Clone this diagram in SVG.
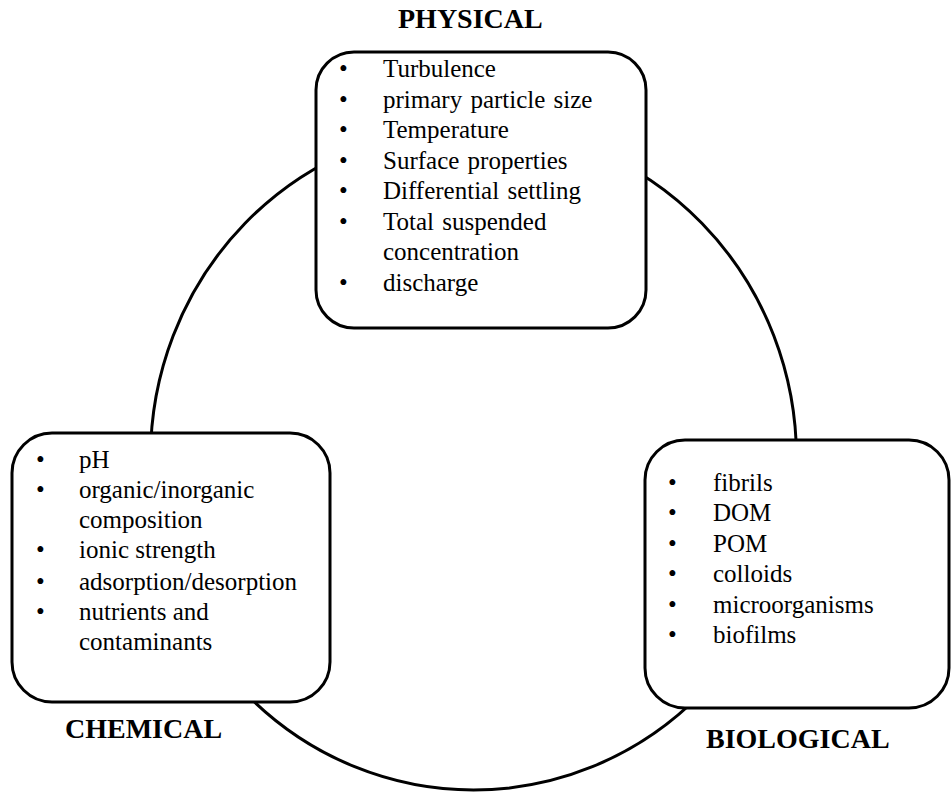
<svg xmlns="http://www.w3.org/2000/svg" width="952" height="793" viewBox="0 0 952 793">
<style>
.box{fill:#fff;stroke:#000;stroke-width:3}
.ring{fill:none;stroke:#000;stroke-width:3}
text{font-family:"Liberation Serif","Times New Roman",serif;fill:#000}
.t{font-size:25px}
.w{word-spacing:2px}
.h{font-size:28px;font-weight:bold}
</style>
<rect width="952" height="793" fill="#fff"/>
<g id="connectors">
<ellipse class="ring" cx="473.5" cy="458" rx="323" ry="332"/>
</g>
<g id="physical">
<rect class="box" x="316" y="52" width="330" height="276" rx="38" ry="38"/>
<text class="h" x="398" y="28">PHYSICAL</text>
<text class="t" x="339" y="77">•</text><text class="t w" x="383" y="77">Turbulence</text>
<text class="t" x="339" y="108">•</text><text class="t w" x="383" y="108">primary particle size</text>
<text class="t" x="339" y="138">•</text><text class="t w" x="383" y="138">Temperature</text>
<text class="t" x="339" y="169">•</text><text class="t w" x="383" y="169">Surface properties</text>
<text class="t" x="339" y="199">•</text><text class="t w" x="383" y="199">Differential settling</text>
<text class="t" x="339" y="230">•</text><text class="t w" x="383" y="230">Total suspended</text>
<text class="t w" x="383" y="260">concentration</text>
<text class="t" x="339" y="291">•</text><text class="t w" x="383" y="291">discharge</text>
</g>
<g id="chemical">
<rect class="box" x="12" y="433" width="318" height="269" rx="40" ry="40"/>
<text class="h" x="65" y="738">CHEMICAL</text>
<text class="t" x="36" y="468">•</text><text class="t" x="79" y="468">pH</text>
<text class="t" x="36" y="498">•</text><text class="t" x="79" y="498">organic/inorganic</text>
<text class="t" x="79" y="528">composition</text>
<text class="t" x="36" y="558">•</text><text class="t" x="79" y="558">ionic strength</text>
<text class="t" x="36" y="590">•</text><text class="t" x="79" y="590">adsorption/desorption</text>
<text class="t" x="36" y="620">•</text><text class="t" x="79" y="620">nutrients and</text>
<text class="t" x="79" y="650">contaminants</text>
</g>
<g id="biological">
<rect class="box" x="645" y="440" width="304" height="268" rx="40" ry="40"/>
<text class="h" x="706" y="748">BIOLOGICAL</text>
<text class="t" x="668" y="491">•</text><text class="t" x="713" y="491">fibrils</text>
<text class="t" x="668" y="521">•</text><text class="t" x="713" y="521">DOM</text>
<text class="t" x="668" y="552">•</text><text class="t" x="713" y="552">POM</text>
<text class="t" x="668" y="582">•</text><text class="t" x="713" y="582">colloids</text>
<text class="t" x="668" y="613">•</text><text class="t" x="713" y="613">microorganisms</text>
<text class="t" x="668" y="643">•</text><text class="t" x="713" y="643">biofilms</text>
</g>
</svg>
